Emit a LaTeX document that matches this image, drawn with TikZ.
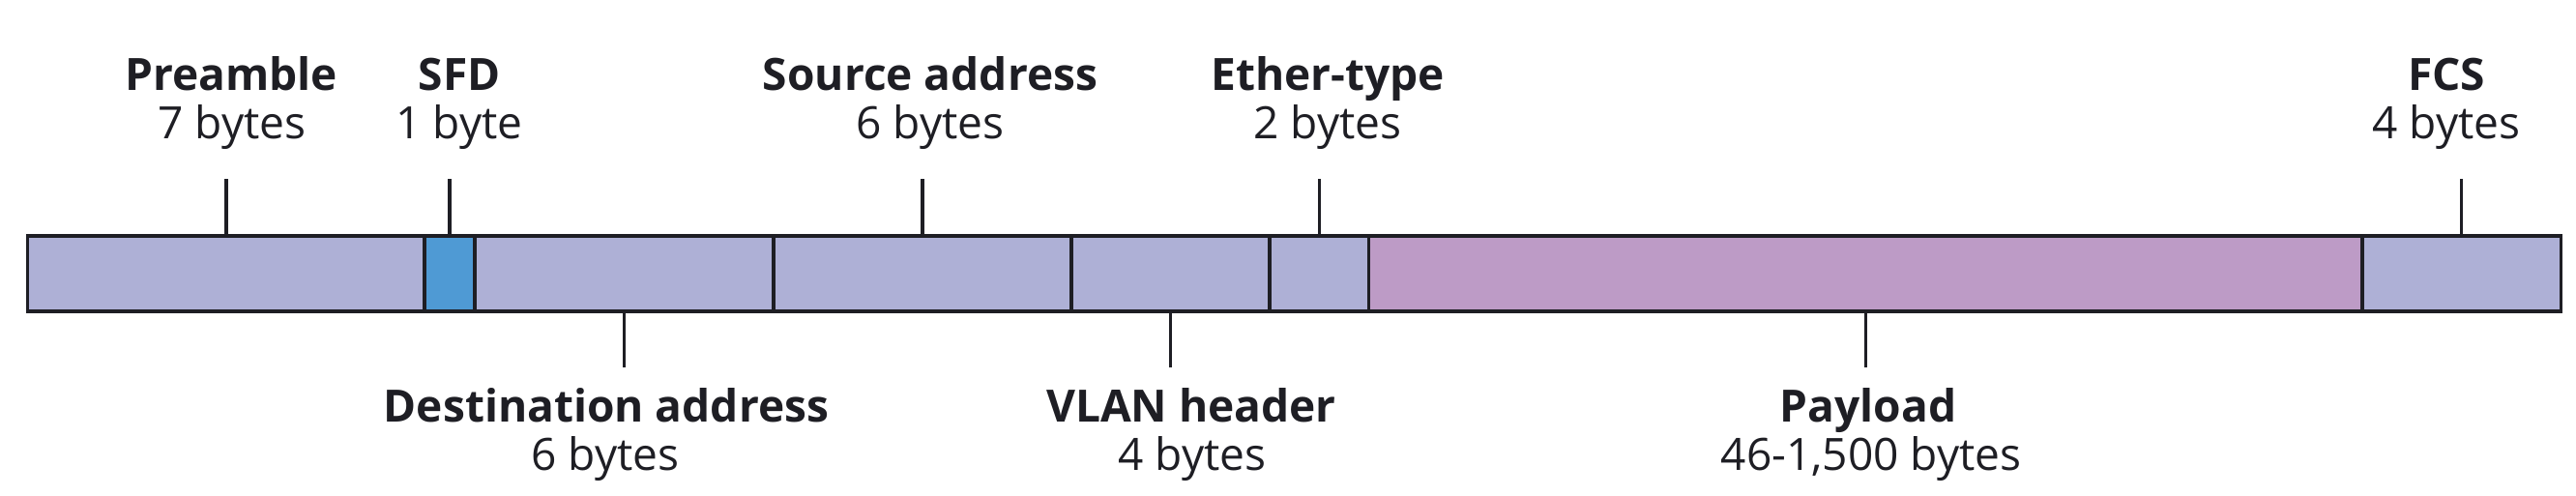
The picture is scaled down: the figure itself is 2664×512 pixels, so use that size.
\documentclass[tikz,border=0pt]{standalone}
\usepackage{fontspec}
\setmainfont{Open Sans}
\definecolor{lav}{HTML}{AEB0D6}
\definecolor{sfdblue}{HTML}{4F9AD4}
\definecolor{pink}{HTML}{BD9BC6}
\definecolor{ink}{HTML}{1E1E24}
\begin{document}
\begin{tikzpicture}[x=0.01cm,y=-0.01cm,
  seg/.style={draw=ink,line width=0.9pt,inner sep=0pt,minimum height=0.78cm,anchor=center},
  tick/.style={draw=ink,line width=0.9pt},
  ttl/.style={font=\fontsize{13.1}{15}\selectfont\bfseries,text=ink,anchor=base,inner sep=0pt},
  sub/.style={font=\fontsize{13.1}{15}\selectfont,text=ink,anchor=base,inner sep=0pt}]
\useasboundingbox (0,0) rectangle (2664,512);
% segments
\node[seg,fill=lav,minimum width=4.10cm] (pre) at (234,283) {};
\node[seg,fill=lav,minimum width=3.09cm] (dst) at (645.5,283) {};
\node[seg,fill=lav,minimum width=3.08cm] (src) at (954,283) {};
\node[seg,fill=lav,minimum width=2.05cm] (vlan) at (1210.5,283) {};
\node[seg,fill=lav,minimum width=1.03cm] (eth) at (1364.5,283) {};
\node[seg,fill=pink,minimum width=10.27cm] (pay) at (1929.5,283) {};
\node[seg,fill=lav,minimum width=2.05cm] (fcs) at (2545.5,283) {};
\node[seg,fill=sfdblue,minimum width=0.52cm] (sfd) at (465,283) {};
% tick end points
\coordinate (tpre) at (234,185);
\coordinate (tsfd) at (465,185);
\coordinate (tsrc) at (954,185);
\coordinate (teth) at (1364.5,185);
\coordinate (tfcs) at (2545.5,185);
\coordinate (tdst) at (645.5,380);
\coordinate (tvlan) at (1210.5,380);
\coordinate (tpay) at (1929.5,380);
\draw[tick] (tpre) -- (tpre |- pre.north);
\draw[tick] (tsfd) -- (tsfd |- sfd.north);
\draw[tick] (tsrc) -- (tsrc |- src.north);
\draw[tick] (teth) -- (teth |- eth.north);
\draw[tick] (tfcs) -- (tfcs |- fcs.north);
\draw[tick] (tdst) -- (tdst |- dst.south);
\draw[tick] (tvlan) -- (tvlan |- vlan.south);
\draw[tick] (tpay) -- (tpay |- pay.south);
% top labels
\node[ttl] (lpre) at (239,93) {Preamble};
\node[sub] (spre) at (240,143) {7 bytes};
\node[ttl] (lsfd) at (475,93) {SFD};
\node[sub] (ssfd) at (475,143) {1 byte};
\node[ttl] (lsrc) at (962,93) {Source address};
\node[sub] (ssrc) at (962,143) {6 bytes};
\node[ttl] (leth) at (1373,93) {Ether-type};
\node[sub] (seth) at (1373,143) {2 bytes};
\node[ttl] (lfcs) at (2530,93) {FCS};
\node[sub] (sfcs) at (2530,143) {4 bytes};
% bottom labels
\node[ttl] (ldst) at (627,436) {Destination address};
\node[sub] (sdst) at (626,486) {6 bytes};
\node[ttl] (lvlan) at (1232,436) {VLAN header};
\node[sub] (svlan) at (1233,486) {4 bytes};
\node[ttl] (lpay) at (1932,436) {Payload};
\node[sub] (spay) at (1935,486) {46-1,500 bytes};
\end{tikzpicture}
\end{document}
